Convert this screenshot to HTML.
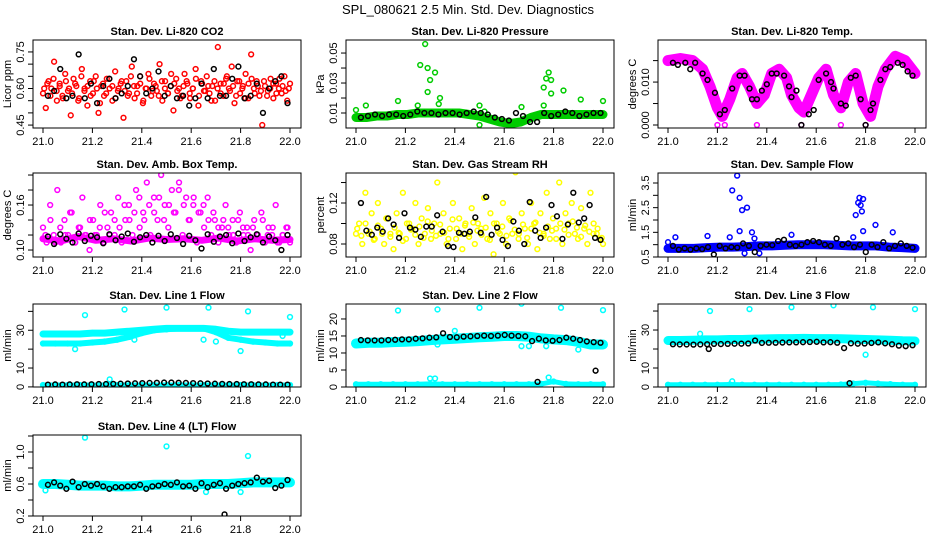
<!DOCTYPE html>
<html><head><meta charset="utf-8"><style>
body{margin:0;background:#fff}
svg{display:block;font-family:"Liberation Sans",sans-serif}
</style></head><body>
<svg id="c" width="936" height="540" viewBox="0 0 936 540">
<rect width="936" height="540" fill="#fff"/>
<text x="468" y="14" text-anchor="middle" font-size="13">SPL_080621  2.5 Min. Std. Dev. Diagnostics</text>
</svg>
<script>
const xTicks=[21.0,21.2,21.4,21.6,21.8,22.0];
const xTickLabels=["21.0","21.2","21.4","21.6","21.8","22.0"];

// Panel 1 CO2
const co2Red=[0.58,0.52,0.63,0.60,0.71,0.55,0.62,0.57,0.66,0.59,0.49,0.64,0.61,0.56,0.68,0.60,0.53,0.63,0.58,0.65,0.50,0.61,0.57,0.64,0.60,0.55,0.67,0.59,0.62,0.48,0.63,0.58,0.69,0.56,0.61,0.65,0.54,0.60,0.66,0.57,0.62,0.59,0.70,0.55,0.63,0.58,0.61,0.51,0.64,0.60,0.57,0.66,0.62,0.56,0.60,0.68,0.53,0.63,0.59,0.65,0.58,0.61,0.55,0.77,0.62,0.57,0.64,0.60,0.69,0.54,0.63,0.58,0.61,0.66,0.56,0.74,0.60,0.63,0.57,0.45,0.61,0.59,0.64,0.56,0.62,0.60,0.58,0.65,0.55,0.62];
const co2Red2=[0.60,0.62,0.57,0.64,0.59,0.61,0.56,0.63,0.60,0.58,0.62,0.55,0.65,0.59,0.61,0.57,0.63,0.60,0.54,0.62,0.58,0.64,0.61,0.56,0.60,0.63,0.59,0.57,0.65,0.61,0.58,0.62,0.55,0.60,0.64,0.59,0.61,0.57,0.63,0.60,0.58,0.66,0.62,0.59,0.56,0.61,0.63,0.58,0.60,0.64,0.57,0.62,0.59,0.61,0.55,0.63,0.60,0.58,0.62,0.65,0.59,0.61,0.57,0.63,0.60,0.56,0.62,0.64,0.58,0.61,0.59,0.63,0.57,0.60,0.62,0.58,0.64,0.61,0.59,0.60];
const co2Black=[0.57,0.59,0.68,0.56,0.57,0.74,0.56,0.62,0.54,0.61,0.64,0.56,0.58,0.61,0.72,0.65,0.58,0.60,0.67,0.57,0.61,0.56,0.57,0.53,0.56,0.62,0.56,0.68,0.57,0.57,0.64,0.69,0.56,0.57,0.62,0.50,0.60,0.63,0.65,0.54];
// Panel 2 Pressure
const presBand=[0.007,0.007,0.008,0.008,0.009,0.009,0.010,0.010,0.010,0.010,0.010,0.009,0.008,0.006,0.004,0.003,0.004,0.007,0.009,0.009,0.009,0.009,0.009,0.009,0.009];
const presOutT=[21.0,21.04,21.17,21.25,21.26,21.28,21.29,21.30,21.29,21.32,21.34,21.50,21.67,21.76,21.77,21.78,21.79,21.79,21.76,21.84,21.91,22.0,21.50,21.52,21.335];
const presOutV=[0.012,0.015,0.018,0.015,0.042,0.056,0.040,0.032,0.024,0.037,0.020,0.015,0.014,0.027,0.033,0.037,0.032,0.023,0.015,0.025,0.019,0.018,0.002,0.011,0.016];
const presBlack=[0.007,0.008,0.009,0.008,0.009,0.009,0.008,0.009,0.011,0.010,0.010,0.009,0.010,0.010,0.009,0.010,0.011,0.010,0.009,0.007,0.006,0.005,0.010,0.008,0.004,0.004,0.010,0.008,0.009,0.011,0.010,0.008,0.009,0.010,0.010];
// Panel 3 Temp
const tempT=[21.0,21.05,21.1,21.14,21.17,21.2,21.22,21.25,21.28,21.3,21.33,21.36,21.39,21.42,21.45,21.48,21.5,21.53,21.55,21.58,21.61,21.64,21.67,21.7,21.73,21.76,21.79,21.82,21.85,21.88,21.92,21.96,22.0];
const tempV=[0.015,0.0155,0.015,0.013,0.009,0.004,0.002,0.006,0.011,0.012,0.009,0.005,0.007,0.012,0.013,0.011,0.007,0.004,0.003,0.007,0.011,0.013,0.007,0.004,0.010,0.012,0.005,0.002,0.009,0.013,0.016,0.015,0.012];
const tempOutT=[21.2,21.23,21.36,21.54,21.7,21.8];
const tempOutV=[0,0,0,0,0,0];
const tempBlackT=[21.02,21.04,21.07,21.09,21.11,21.14,21.16,21.19,21.21,21.23,21.26,21.29,21.31,21.33,21.34,21.36,21.38,21.40,21.42,21.44,21.47,21.49,21.50,21.52,21.54,21.57,21.59,21.61,21.64,21.66,21.67,21.70,21.72,21.74,21.76,21.78,21.80,21.82,21.83,21.86,21.88,21.90,21.93,21.95,21.97,21.99];
const tempBlackV=[0.0145,0.014,0.0145,0.013,0.0145,0.012,0.0105,0.0075,0.0025,0.0035,0.0085,0.0115,0.0115,0.0085,0.006,0.006,0.008,0.0095,0.012,0.012,0.0115,0.009,0.0065,0.008,0.000,0.0025,0.0035,0.0105,0.012,0.010,0.0085,0.005,0.0045,0.011,0.0115,0.006,0.000,0.0035,0.005,0.0105,0.013,0.0135,0.0145,0.014,0.0125,0.0115];
// Panel 4 Amb box temp
const ambMag=[0.13,0.11,0.16,0.12,0.18,0.11,0.14,0.12,0.15,0.11,0.13,0.17,0.12,0.10,0.14,0.12,0.16,0.11,0.13,0.15,0.12,0.17,0.11,0.14,0.16,0.12,0.18,0.13,0.15,0.19,0.12,0.17,0.14,0.20,0.16,0.13,0.18,0.15,0.19,0.12,0.17,0.14,0.16,0.11,0.15,0.13,0.17,0.12,0.14,0.11,0.13,0.16,0.12,0.14,0.11,0.15,0.12,0.13,0.10,0.14,0.12,0.15,0.11,0.13,0.12,0.16,0.11,0.12,0.13,0.11];
const ambMag2=[0.12,0.14,0.11,0.13,0.12,0.15,0.11,0.13,0.12,0.14,0.12,0.13,0.15,0.12,0.14,0.13,0.16,0.14,0.15,0.17,0.14,0.16,0.15,0.17,0.14,0.16,0.15,0.18,0.16,0.14,0.17,0.15,0.16,0.14,0.15,0.13,0.14,0.13,0.12,0.14,0.13,0.12,0.13,0.12,0.14,0.12,0.13,0.11,0.12,0.13];
const ambBand=[0.115,0.112,0.118,0.113,0.115,0.112,0.116,0.114,0.115,0.113,0.116,0.112,0.115,0.113,0.114];
const ambBlack=[0.118,0.108,0.121,0.115,0.110,0.122,0.112,0.119,0.117,0.109,0.121,0.113,0.118,0.122,0.111,0.117,0.120,0.110,0.119,0.112,0.121,0.116,0.108,0.119,0.113,0.102,0.121,0.111,0.118,0.120,0.109,0.122,0.112,0.117,0.121,0.110,0.118,0.113,0.100,0.120];
// Panel 5 RH
const rhYel=[0.09,0.10,0.08,0.13,0.09,0.11,0.085,0.12,0.095,0.08,0.105,0.09,0.075,0.11,0.09,0.13,0.085,0.10,0.095,0.12,0.08,0.105,0.09,0.115,0.085,0.10,0.14,0.09,0.11,0.08,0.095,0.12,0.085,0.105,0.075,0.10,0.09,0.115,0.08,0.10,0.095,0.125,0.085,0.11,0.07,0.10,0.09,0.12,0.08,0.105,0.09,0.15,0.085,0.11,0.095,0.08,0.12,0.10,0.075,0.11,0.09,0.13,0.085,0.105,0.095,0.14,0.08,0.11,0.10,0.12,0.09,0.085,0.115,0.095,0.08,0.13,0.10,0.09,0.085,0.08];
const rhYel2=[0.095,0.088,0.100,0.092,0.084,0.098,0.090,0.105,0.087,0.096,0.091,0.083,0.100,0.094,0.089,0.097,0.086,0.102,0.093,0.088,0.099,0.091,0.085,0.104,0.095,0.090,0.098,0.087,0.101,0.093,0.089,0.096,0.084,0.100,0.092,0.097,0.088,0.103,0.094,0.090,0.099,0.086,0.095,0.101,0.091,0.088,0.097,0.093,0.085,0.100,0.094,0.089,0.102,0.096,0.087,0.098,0.092,0.090,0.095,0.086];
const rhBlack=[0.12,0.093,0.089,0.096,0.092,0.105,0.099,0.086,0.11,0.096,0.094,0.087,0.097,0.097,0.108,0.092,0.078,0.077,0.091,0.09,0.092,0.106,0.091,0.126,0.089,0.096,0.084,0.078,0.102,0.093,0.08,0.121,0.093,0.086,0.096,0.118,0.107,0.085,0.099,0.13,0.101,0.105,0.118,0.086,0.084];
// Panel 6 Sample flow
const sfBand=[0.85,0.85,0.85,0.88,0.9,0.9,0.92,0.95,0.95,0.98,1.0,1.0,1.0,0.98,0.95,0.95,0.95,0.9,0.88,0.85];
const sfOutT=[21.0,21.03,21.16,21.25,21.26,21.28,21.29,21.29,21.3,21.32,21.34,21.35,21.5,21.76,21.77,21.775,21.78,21.79,21.785,21.79,21.84,21.91,21.75,21.37,21.31];
const sfOutV=[1.1,1.3,1.35,1.3,3.2,3.8,2.9,1.55,2.4,2.5,1.5,1.25,1.4,2.2,2.7,2.9,2.6,2.85,2.35,1.55,1.8,1.5,1.3,0.65,0.65];
const sfBlack=[0.95,0.8,0.85,0.8,0.85,0.82,0.9,0.6,0.95,0.85,0.9,0.88,1.05,0.95,0.7,0.95,1.0,0.98,1.15,1.2,1.0,0.95,1.0,1.1,1.15,1.1,1.0,0.95,1.25,1.0,1.05,0.9,1.0,0.7,1.0,0.9,1.1,0.85,0.95,1.05,0.95,0.88];
// Panel 7 Line 1
const l1Upper=[28,28,28,28,28.5,28.5,29,29.5,30,30.5,31,31,31,31,30.5,29.5,29,29,29,29,29];
const l1Lower=[23,23,23,23,23.5,24,25,26.5,28.5,30,30.5,31,31,31,29,26,25,24,23.5,23,23];
const l1Base=[1,1,1,1,1,1,1,1,1,1,1,1,1,1,1,1,1,1,1,1,1];
const l1OutT=[21.17,21.33,21.5,21.67,21.83,22.0,21.27,21.13,21.8,21.65,21.7,21.37,21.97];
const l1OutV=[38,41,42,42,40,37,4,20,19,25,24,25,27];
const l1Black=[1.2,1.3,1.2,1.3,1.4,1.3,1.4,1.5,1.5,1.6,1.7,1.8,1.9,2.0,2.1,2.2,2.3,2.3,2.2,2.1,2.0,1.9,1.8,1.7,1.6,1.5,1.5,1.4,1.4,1.3,1.3,1.2,1.2,1.2];
// Panel 8 Line 2
const l2Band=[12.8,13,13,13.2,13.3,13.5,13.8,14,14.2,14.4,14.6,14.8,15,15,14.8,14.3,14,13.8,13.3,12.5,12.5];
const l2Base=[0.8,0.8,0.8,0.8,0.8,0.8,0.9,0.8,0.8,0.8,0.8,0.8,0.8,0.8,0.8,0.9,1.6,0.9,0.8,0.8,0.8];
const l2OutT=[21.17,21.33,21.5,21.67,21.83,22.0,21.3,21.32,21.67,21.7,21.77,21.9,21.4,21.33,21.78];
const l2OutV=[22.5,22.8,23.3,24.5,23.3,22.6,2.5,2.5,12,12,12,11,16.5,12.5,2.8];
const l2Black=[13.8,13.7,13.7,13.7,13.8,13.9,14.0,14.0,14.2,14.3,14.5,14.6,15.8,14.7,14.6,14.8,14.9,15.0,15.1,15.0,15.1,15.3,15.1,15.0,14.9,13.5,14.2,13.7,13.6,13.8,14.5,14.2,13.8,13.4,13.2,13.0];
const l2BlkOutT=[21.97,21.735];
const l2BlkOutV=[4.8,1.5];
// Panel 9 Line 3
const l3Band=[24.5,24.5,24.6,24.8,24.8,25,25,25.2,25.3,25.5,25.5,25.6,25.5,25.5,25.4,25.2,25,24.8,24.6,24.3,24.2];
const l3Base=[1.2,1.2,1.2,1.2,1.2,1.3,1.2,1.2,1.2,1.2,1.2,1.2,1.2,1.2,1.3,1.8,2.2,1.8,1.5,1.2,1.2];
const l3OutT=[21.17,21.33,21.5,21.67,21.83,22.0,21.8,21.26,21.13];
const l3OutV=[40,41,42,43,42,41,17,3,28];
const l3Black=[22.5,22.4,22.4,22.3,22.4,22.5,22.7,22.6,22.7,22.8,22.8,22.9,24.5,23.2,23.3,23.3,23.4,23.5,23.5,23.6,23.7,23.8,23.5,23.6,23.3,20.5,23.0,22.8,22.9,23.2,23.5,23.0,22.5,21.8,21.5,22.0];
const l3BlkOutT=[21.165,21.735];
const l3BlkOutV=[20,2];
// Panel 10 Line 4
const l4Band=[0.6,0.6,0.59,0.58,0.58,0.58,0.57,0.57,0.58,0.59,0.59,0.59,0.59,0.6,0.6,0.6,0.61,0.62,0.62,0.62,0.62];
const l4OutT=[21.17,21.5,21.83,21.8,21.66,21.01];
const l4OutV=[1.18,1.07,0.95,0.5,0.5,0.52];
const l4Black=[0.59,0.62,0.58,0.54,0.63,0.56,0.6,0.58,0.6,0.57,0.54,0.56,0.56,0.57,0.57,0.59,0.54,0.57,0.58,0.6,0.59,0.62,0.57,0.58,0.54,0.61,0.56,0.59,0.61,0.54,0.58,0.6,0.61,0.62,0.68,0.63,0.64,0.55,0.58,0.65];
const l4BlkOutT=[21.735];
const l4BlkOutV=[0.22];

const NS="http://www.w3.org/2000/svg";
const svg=document.getElementById('c');
const colL=[33,346,658], BW=268;
const rowTB=[[40,128],[173,257],[304,387],[435,516]];

function el(tag,attrs,parent){const e=document.createElementNS(NS,tag);for(const k in attrs)e.setAttribute(k,attrs[k]);(parent||svg).appendChild(e);return e;}
function lin(a,b,n){const r=[];for(let i=0;i<n;i++)r.push(n===1?a:a+(b-a)*i/(n-1));return r;}

function panel(p){
  const L=colL[p.col],T=rowTB[p.row][0],B=rowTB[p.row][1];
  const g=el('g',{});
  
  
  const xs=t=>L+10+(t-21)*247;
  const ys=v=>B-(v-p.ymin)/(p.ymax-p.ymin)*(B-T);
  const clip='clip-'+p.name;
  const cp=el('clipPath',{id:clip},g);el('rect',{x:L,y:T,width:BW,height:B-T},cp);
  const marks=el('g',{'clip-path':'url(#'+clip+')'},g);
  
  
  (p.bands||[]).forEach(b=>{
    const ts=b.t||lin(21,22,b.v.length);
    const pts=b.v.map((v,i)=>xs(ts[i]).toFixed(1)+','+ys(v).toFixed(1)).join(' ');
    const pl=el('polyline',{points:pts,fill:'none',stroke:b.c,'stroke-width':b.w,'stroke-linejoin':'round','stroke-linecap':'round'},marks);
    
    
    b.v.forEach((v,i)=>{
      const c=el('circle',{cx:xs(ts[i]),cy:ys(v),r:2.4,fill:'none',stroke:b.c,'stroke-width':1.5},marks);
      
      
    });
  });
  (p.series||[]).forEach(s=>{
    const ts=s.t||lin(s.a||21.0,s.b||22.0,s.v.length);
    s.v.forEach((v,i)=>{
      const c=el('circle',{cx:xs(ts[i]),cy:ys(v),r:2.4,fill:'none',stroke:s.c,'stroke-width':1.5},marks);
      
      
    });
  });
  el('rect',{x:L,y:T,width:BW,height:B-T,fill:'none',stroke:'#000','stroke-width':1},g);
  xTicks.forEach((t,i)=>{
    el('line',{x1:xs(t),x2:xs(t),y1:B,y2:B+5,stroke:'#000'},g);
    const tx=el('text',{x:xs(t),y:B+17,'text-anchor':'middle','font-size':11},g);
    tx.textContent=xTickLabels[i];
    
    
  });
  p.yt.forEach(v=>{el('line',{x1:L-5,x2:L,y1:ys(v),y2:ys(v),stroke:'#000'},g);});
  p.yl.forEach(s=>{
    const y=ys(parseFloat(s));
    const tx=el('text',{x:L-9,y:y,'text-anchor':'middle','font-size':11,transform:'rotate(-90 '+(L-9)+' '+y+')'},g);
    tx.textContent=s;
    
    
  });
  const yl=el('text',{x:L-22,y:(T+B)/2,'text-anchor':'middle','font-size':11,transform:'rotate(-90 '+(L-22)+' '+(T+B)/2+')'},g);
  yl.textContent=p.ylab;
  
  
  const ti=el('text',{x:L+BW/2,y:T-5,'text-anchor':'middle','font-size':11,'font-weight':'bold'},g);
  ti.textContent=p.title;
  
  
}
const RED='#ff0000',GRN='#00cc00',MAG='#ff00ff',YEL='#ffff00',BLU='#0000ff',CYN='#00ffff',BLK='#000';
panel({name:'co2-panel',col:0,row:0,ymin:0.438,ymax:0.799,yt:[0.45,0.5,0.55,0.6,0.65,0.7,0.75],yl:['0.45','0.60','0.75'],ylab:'Licor ppm',title:'Stan. Dev. Li-820 CO2',
  series:[{v:co2Red,c:RED},{v:co2Red2,c:RED,a:21.005,b:21.995},{v:co2Black,c:BLK,a:21.02,b:21.99}]});
panel({name:'pressure-panel',col:1,row:0,ymin:0.0,ymax:0.0587,yt:[0.01,0.02,0.03,0.04,0.05],yl:['0.01','0.03','0.05'],ylab:'kPa',title:'Stan. Dev. Li-820 Pressure',
  bands:[{v:presBand,c:GRN,w:9}],series:[{t:presOutT,v:presOutV,c:GRN},{v:presBlack,c:BLK,a:21.02,b:21.99}]});
panel({name:'temp-panel',col:2,row:0,ymin:-0.0007,ymax:0.0198,yt:[0,0.005,0.01,0.015],yl:['0.000','0.010'],ylab:'degrees C',title:'Stan. Dev. Li-820 Temp.',
  bands:[{t:tempT,v:tempV,c:MAG,w:11}],series:[{t:tempOutT,v:tempOutV,c:MAG},{t:tempBlackT,v:tempBlackV,c:BLK}]});
panel({name:'amb-temp-panel',col:0,row:1,ymin:0.0907,ymax:0.2027,yt:[0.10,0.12,0.14,0.16,0.18,0.20],yl:['0.10','0.16'],ylab:'degrees C',title:'Stan. Dev. Amb. Box Temp.',
  bands:[{v:ambBand,c:MAG,w:7}],series:[{v:ambMag,c:MAG},{v:ambMag2,c:MAG,a:21.01,b:21.99},{v:ambBlack,c:BLK,a:21.02,b:21.99}]});
panel({name:'rh-panel',col:1,row:1,ymin:0.0673,ymax:0.1493,yt:[0.08,0.10,0.12,0.14],yl:['0.08','0.12'],ylab:'percent',title:'Stan. Dev. Gas Stream RH',
  series:[{v:rhYel,c:YEL},{v:rhYel2,c:YEL,a:21.005,b:21.995},{v:rhBlack,c:BLK,a:21.02,b:21.99}]});
panel({name:'sample-flow-panel',col:2,row:1,ymin:0.5,ymax:3.905,yt:[0.5,1,1.5,2,2.5,3,3.5],yl:['0.5','1.5','2.5','3.5'],ylab:'ml/min',title:'Stan. Dev. Sample Flow',
  bands:[{v:sfBand,c:BLU,w:9}],series:[{t:sfOutT,v:sfOutV,c:BLU},{v:sfBlack,c:BLK,a:21.02,b:21.99}]});
panel({name:'line1-panel',col:0,row:2,ymin:-0.05,ymax:43.9,yt:[0,10,20,30,40],yl:['0','10','30'],ylab:'ml/min',title:'Stan. Dev. Line 1 Flow',
  bands:[{v:l1Upper,c:CYN,w:7},{v:l1Lower,c:CYN,w:6},{v:l1Base,c:CYN,w:5}],series:[{t:l1OutT,v:l1OutV,c:CYN},{v:l1Black,c:BLK,a:21.02,b:21.99}]});
panel({name:'line2-panel',col:1,row:2,ymin:0,ymax:24.4,yt:[0,5,10,15,20],yl:['0','5','10','15','20'],ylab:'ml/min',title:'Stan. Dev. Line 2 Flow',
  bands:[{v:l2Band,c:CYN,w:10},{v:l2Base,c:CYN,w:5}],series:[{t:l2OutT,v:l2OutV,c:CYN},{v:l2Black,c:BLK,a:21.02,b:21.99},{t:l2BlkOutT,v:l2BlkOutV,c:BLK}]});
panel({name:'line3-panel',col:2,row:2,ymin:0,ymax:43.7,yt:[0,10,20,30,40],yl:['0','10','30'],ylab:'ml/min',title:'Stan. Dev. Line 3 Flow',
  bands:[{v:l3Band,c:CYN,w:9},{v:l3Base,c:CYN,w:5}],series:[{t:l3OutT,v:l3OutV,c:CYN},{v:l3Black,c:BLK,a:21.02,b:21.99},{t:l3BlkOutT,v:l3BlkOutV,c:BLK}]});
panel({name:'line4-panel',col:0,row:3,ymin:0.2,ymax:1.2125,yt:[0.2,0.4,0.6,0.8,1.0,1.2],yl:['0.2','0.6','1.0'],ylab:'ml/min',title:'Stan. Dev. Line 4 (LT) Flow',
  bands:[{v:l4Band,c:CYN,w:10}],series:[{t:l4OutT,v:l4OutV,c:CYN},{v:l4Black,c:BLK,a:21.02,b:21.99},{t:l4BlkOutT,v:l4BlkOutV,c:BLK}]});
</script>
</body></html>
